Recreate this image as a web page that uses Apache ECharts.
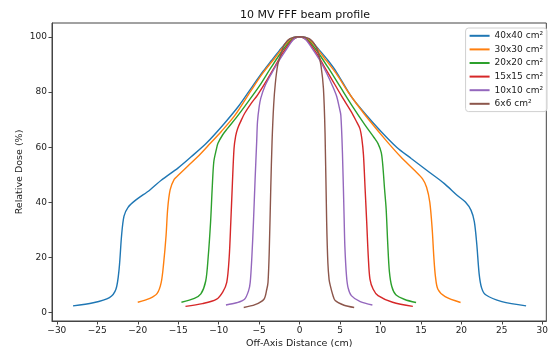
<!DOCTYPE html>
<html>
<head>
<meta charset="utf-8">
<script src="https://cdn.jsdelivr.net/npm/echarts@6/dist/echarts.min.js"></script>
<style>
  html, body { margin: 0; padding: 0; background: #fff; }
  #chart { width: 551px; height: 354px; }
</style>
</head>
<body>
<div id="chart"></div>
<script>
// beam profiles: [off-axis cm, relative dose %]
var fieldNames = ['40x40 cm²', '30x30 cm²', '20x20 cm²', '15x15 cm²', '10x10 cm²', '6x6 cm²'];
var colors = ['#1f77b4', '#ff7f0e', '#2ca02c', '#d62728', '#9467bd', '#8c564b'];
var xTicks = [-30, -25, -20, -15, -10, -5, 0, 5, 10, 15, 20, 25, 30];
var yTicks = [0, 20, 40, 60, 80, 100];

var profile40 = [[-28.0,2.5],[-25.5,3.6],[-23.5,5.5],[-22.7,8.5],[-22.3,16],[-22.0,28],[-21.7,35],[-21.2,38.2],[-20.3,40.7],[-18.5,44.5],[-17.1,48],[-15,52.5],[-13.4,56.5],[-11.5,61.5],[-9.3,68.6],[-7.5,75],[-6.0,81.3],[-4.5,87.5],[-3.5,91.3],[-2.5,95],[-1.5,98.3],[-0.6,99.9],[0,100],[0.6,99.9],[1.5,98.3],[2.5,95],[3.5,91.5],[4.5,87.5],[6.4,78.3],[8,72.5],[10.1,65.6],[12,60],[13.8,55.9],[16,51],[17.9,46.8],[19.5,42.5],[20.5,40.1],[21.2,37.1],[21.6,33],[21.9,25],[22.2,14],[22.5,9],[23,6.5],[25,4],[28,2.5]];
var profile30 = [[-20,3.8],[-18.5,5.2],[-17.6,7],[-17.1,11],[-16.8,18],[-16.5,28],[-16.3,37.7],[-16,44.5],[-15.5,48.3],[-15,49.8],[-13.8,53.2],[-12.6,56.5],[-11,61.5],[-9.7,65.6],[-8,71.5],[-6,80.5],[-4.5,87],[-3,92.5],[-1.5,98],[0,100],[1.5,98],[3,92.5],[4.5,86.8],[6,80],[8,72],[10.5,63.1],[12.5,56.5],[14.2,51.6],[15.2,48.5],[15.7,45.5],[16.1,40],[16.4,30],[16.6,20],[16.8,13],[17.1,8.5],[18,5.8],[19.9,3.7]];
var profile20 = [[-14.6,3.8],[-13,5.2],[-12.2,6.8],[-11.6,11.5],[-11.3,20],[-11.0,32.8],[-10.8,45],[-10.6,54.7],[-10.3,59],[-10.1,61.3],[-9.5,64.5],[-8.9,66.8],[-7.8,70.8],[-6.8,74.7],[-5,82],[-3.5,89],[-2,95.5],[-1,98.8],[0,100],[1,98.8],[2,95.5],[3.5,89],[5,82],[6.5,75],[8.1,68],[9.2,63.5],[9.7,61.3],[10.1,58],[10.3,53],[10.5,45],[10.7,37.7],[10.9,25],[11.1,15],[11.4,9.5],[11.9,6.5],[13,4.8],[14.4,3.7]];
var profile15 = [[-14.1,2.3],[-12,3.3],[-10.3,4.8],[-9.5,7.5],[-9.0,11],[-8.7,20],[-8.5,32.8],[-8.3,47],[-8.1,59.5],[-7.9,64],[-7.65,66.8],[-7.2,69.8],[-6.8,72.2],[-6,75.8],[-5.2,78.9],[-4,84.5],[-3,89.5],[-2,94.5],[-1,98.5],[0,100],[1,98.5],[2,94.5],[3,89.5],[4,84.5],[5.2,78.5],[6.4,72.8],[7,69.5],[7.45,66.8],[7.7,63],[7.9,57.1],[8.1,45],[8.3,32.8],[8.5,20],[8.7,12.2],[9.1,8.5],[9.7,6.2],[11.5,3.8],[14,2.3]];
var profile10 = [[-9.1,2.8],[-7.8,3.6],[-6.8,4.9],[-6.3,8],[-6.1,11],[-5.9,20],[-5.7,32.8],[-5.5,48],[-5.3,62],[-5.2,69.2],[-5.0,74.5],[-4.8,77.7],[-4.3,82],[-3.56,86.2],[-2.5,91.5],[-1.5,96],[-0.7,99.2],[0,100],[0.7,99.2],[1.5,96],[2.5,91.5],[3.35,86.8],[4.1,82],[4.6,78.3],[4.9,74.5],[5.1,71.6],[5.3,58],[5.5,35.3],[5.6,24],[5.8,13.4],[6.0,9],[6.4,6.2],[7.5,4],[9.0,2.8]];
var profile6 = [[-6.9,1.9],[-5.5,2.9],[-4.4,4.9],[-4.05,8.5],[-3.9,11],[-3.75,22],[-3.56,45],[-3.4,62],[-3.2,75.3],[-3.0,83],[-2.7,89.8],[-2.3,93.8],[-1.9,97.1],[-1.2,99.3],[0,100],[1.2,99.3],[1.9,97.1],[2.3,94.5],[2.65,89.5],[2.95,81.3],[3.15,65],[3.35,32.8],[3.5,18],[3.65,12],[3.8,9.8],[4.1,6.5],[4.4,4.4],[5.5,2.7],[6.75,1.9]];

var profiles = [profile40, profile30, profile20, profile15, profile10, profile6];

var chart = echarts.init(document.getElementById('chart'));

function minusSign(v) {
  return String(v).replace('-', '\u2212');
}

var series = [];
for (var i = 0; i < profiles.length; i++) {
  series.push({
    name: fieldNames[i],
    type: 'line',
    data: profiles[i],
    smooth: 0.3,
    showSymbol: false,
    symbol: 'none',
    lineStyle: { width: 1.4, color: colors[i] },
    itemStyle: { color: colors[i] }
  });
}

var tickFont = { fontFamily: 'DejaVu Sans', fontSize: 9, color: '#222' };
var nameFont = { fontFamily: 'DejaVu Sans', fontSize: 9.5, color: '#222' };

var option = {
  backgroundColor: '#fff',
  animation: false,
  title: {
    text: '10 MV FFF beam profile',
    left: 300,
    textAlign: 'center',
    top: 5,
    textStyle: { fontFamily: 'DejaVu Sans', fontSize: 11, fontWeight: 'normal', color: '#111' }
  },
  grid: {
    left: 52, right: 2, top: 23, bottom: 32,
    show: true,
    borderColor: '#444',
    borderWidth: 1,
    containLabel: false
  },
  legend: {
    orient: 'vertical',
    right: 4,
    top: 28,
    data: fieldNames.map(function (n, i) {
      return { name: n, icon: 'rect', itemStyle: { color: colors[i] } };
    }),
    itemWidth: 20,
    itemHeight: 2,
    itemGap: 2,
    padding: [2, 4, 2, 4],
    borderColor: '#d0d0d0',
    borderWidth: 1,
    borderRadius: 3,
    backgroundColor: 'rgba(255,255,255,0.8)',
    textStyle: { fontFamily: 'DejaVu Sans', fontSize: 9, color: '#222', lineHeight: 11.6 }
  },
  xAxis: {
    type: 'value',
    min: -30.6,
    max: 30.5,
    name: 'Off-Axis Distance (cm)',
    nameLocation: 'middle',
    nameGap: 18,
    nameMoveOverlap: false,
    nameTextStyle: nameFont,
    splitLine: { show: false },
    axisLine: { show: true, onZero: false, lineStyle: { color: '#444' } },
    axisTick: { show: true, length: 3.5, customValues: xTicks, lineStyle: { color: '#444' } },
    axisLabel: Object.assign({ customValues: xTicks, margin: 5, formatter: minusSign, showMinLabel: true, showMaxLabel: true }, tickFont)
  },
  yAxis: {
    type: 'value',
    min: -3,
    max: 105,
    name: 'Relative Dose (%)',
    nameLocation: 'middle',
    nameGap: 27,
    nameMoveOverlap: false,
    nameTextStyle: nameFont,
    splitLine: { show: false },
    axisLine: { show: true, onZero: false, lineStyle: { color: '#444' } },
    axisTick: { show: true, length: 3.5, customValues: yTicks, lineStyle: { color: '#444' } },
    axisLabel: Object.assign({ customValues: yTicks, margin: 5, formatter: minusSign }, tickFont)
  },
  series: series
};

chart.setOption(option);
</script>
</body>
</html>
